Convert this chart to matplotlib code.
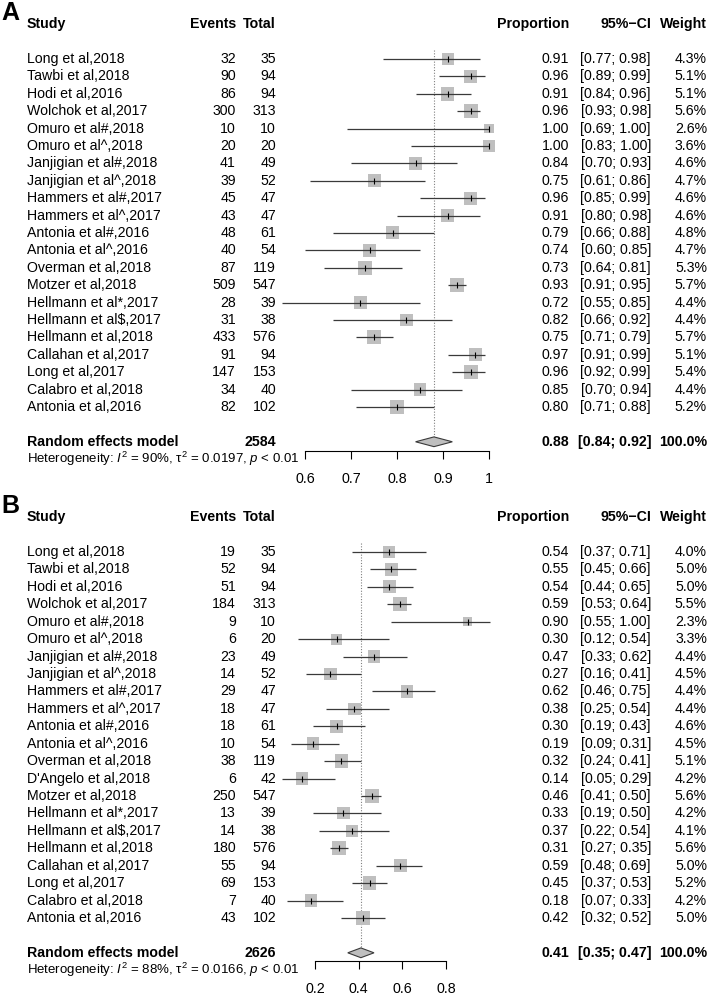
import matplotlib
matplotlib.use("Agg")
import matplotlib.pyplot as plt

plt.rcParams['font.family'] = ['Liberation Sans', 'DejaVu Sans']
plt.rcParams['mathtext.fontset'] = 'custom'
plt.rcParams['mathtext.rm'] = 'Liberation Sans'
plt.rcParams['mathtext.it'] = 'Liberation Sans:italic'
plt.rcParams['mathtext.bf'] = 'Liberation Sans:bold'

# ---- panel A data ----
studies_a = ["Long et al,2018", "Tawbi et al,2018", "Hodi et al,2016", "Wolchok et al,2017",
             "Omuro et al#,2018", "Omuro et al^,2018", "Janjigian et al#,2018", "Janjigian et al^,2018",
             "Hammers et al#,2017", "Hammers et al^,2017", "Antonia et al#,2016", "Antonia et al^,2016",
             "Overman et al,2018", "Motzer et al,2018", "Hellmann et al*,2017", "Hellmann et al$,2017",
             "Hellmann et al,2018", "Callahan et al,2017", "Long et al,2017", "Calabro et al,2018",
             "Antonia et al,2016"]
events_a = [32, 90, 86, 300, 10, 20, 41, 39, 45, 43, 48, 40, 87, 509, 28, 31, 433, 91, 147, 34, 82]
total_a = [35, 94, 94, 313, 10, 20, 49, 52, 47, 47, 61, 54, 119, 547, 39, 38, 576, 94, 153, 40, 102]
prop_a = [0.91, 0.96, 0.91, 0.96, 1.00, 1.00, 0.84, 0.75, 0.96, 0.91, 0.79, 0.74, 0.73, 0.93, 0.72,
          0.82, 0.75, 0.97, 0.96, 0.85, 0.80]
lo_a = [0.77, 0.89, 0.84, 0.93, 0.69, 0.83, 0.70, 0.61, 0.85, 0.80, 0.66, 0.60, 0.64, 0.91, 0.55,
        0.66, 0.71, 0.91, 0.92, 0.70, 0.71]
hi_a = [0.98, 0.99, 0.96, 0.98, 1.00, 1.00, 0.93, 0.86, 0.99, 0.98, 0.88, 0.85, 0.81, 0.95, 0.85,
        0.92, 0.79, 0.99, 0.99, 0.94, 0.88]
w_a = [4.3, 5.1, 5.1, 5.6, 2.6, 3.6, 4.6, 4.7, 4.6, 4.6, 4.8, 4.7, 5.3, 5.7, 4.4, 4.4, 5.7, 5.1,
       5.4, 4.4, 5.2]
pooled_a = [0.88, 0.84, 0.92]
n_a = 2584
het_a = r"Heterogeneity: $I^2$ = 90%, τ$^2$ = 0.0197, $p$ < 0.01"
ticks_a = [0.6, 0.7, 0.8, 0.9, 1.0]
ticklabels_a = ["0.6", "0.7", "0.8", "0.9", "1"]

# ---- panel B data ----
studies_b = ["Long et al,2018", "Tawbi et al,2018", "Hodi et al,2016", "Wolchok et al,2017",
             "Omuro et al#,2018", "Omuro et al^,2018", "Janjigian et al#,2018", "Janjigian et al^,2018",
             "Hammers et al#,2017", "Hammers et al^,2017", "Antonia et al#,2016", "Antonia et al^,2016",
             "Overman et al,2018", "D'Angelo et al,2018", "Motzer et al,2018", "Hellmann et al*,2017",
             "Hellmann et al$,2017", "Hellmann et al,2018", "Callahan et al,2017", "Long et al,2017",
             "Calabro et al,2018", "Antonia et al,2016"]
events_b = [19, 52, 51, 184, 9, 6, 23, 14, 29, 18, 18, 10, 38, 6, 250, 13, 14, 180, 55, 69, 7, 43]
total_b = [35, 94, 94, 313, 10, 20, 49, 52, 47, 47, 61, 54, 119, 42, 547, 39, 38, 576, 94, 153, 40, 102]
prop_b = [0.54, 0.55, 0.54, 0.59, 0.90, 0.30, 0.47, 0.27, 0.62, 0.38, 0.30, 0.19, 0.32, 0.14, 0.46,
          0.33, 0.37, 0.31, 0.59, 0.45, 0.18, 0.42]
lo_b = [0.37, 0.45, 0.44, 0.53, 0.55, 0.12, 0.33, 0.16, 0.46, 0.25, 0.19, 0.09, 0.24, 0.05, 0.41,
        0.19, 0.22, 0.27, 0.48, 0.37, 0.07, 0.32]
hi_b = [0.71, 0.66, 0.65, 0.64, 1.00, 0.54, 0.62, 0.41, 0.75, 0.54, 0.43, 0.31, 0.41, 0.29, 0.50,
        0.50, 0.54, 0.35, 0.69, 0.53, 0.33, 0.52]
w_b = [4.0, 5.0, 5.0, 5.5, 2.3, 3.3, 4.4, 4.5, 4.4, 4.4, 4.6, 4.5, 5.1, 4.2, 5.6, 4.2, 4.1, 5.6,
       5.0, 5.2, 4.2, 5.0]
pooled_b = [0.41, 0.35, 0.47]
n_b = 2626
het_b = r"Heterogeneity: $I^2$ = 88%, τ$^2$ = 0.0166, $p$ < 0.01"
ticks_b = [0.2, 0.4, 0.6, 0.8]
ticklabels_b = ["0.2", "0.4", "0.6", "0.8"]

W, H = 709, 994
FS = 10.2
SQ = '#bfbfbf'
LN = '#3a3a3a'


def px(x):
    return x / W


def forest(ax, studies, events, total, prop, lo, hi, w, pooled, n, het, ticks, ticklabels):
    k = len(studies)
    rows = list(range(k))
    re_row = k + 1
    tr = ax.get_yaxis_transform()

    # header
    for x, s, ha in [(27, "Study", 'left'), (236, "Events", 'right'), (276, "Total", 'right'),
                     (569, "Proportion", 'right'), (651, "95%−CI", 'right'), (707, "Weight", 'right')]:
        ax.text(px(x), -2, s, transform=tr, ha=ha, va='center', fontsize=FS, fontweight='bold')

    # reference line at pooled estimate
    ax.plot([pooled[0], pooled[0]], [-0.5, re_row - 0.3], color='#808080', lw=0.8, ls=(0, (1, 1.5)))

    # squares, CI lines, mid ticks
    sizes = [(5.95 * wi ** 0.5 * 0.72) ** 2 for wi in w]
    ax.scatter(prop, rows, s=sizes, marker='s', color=SQ, linewidths=0, zorder=2)
    ax.hlines(rows, lo, hi, color=LN, lw=0.9, zorder=3)
    ax.plot(prop, rows, ls='none', marker='|', ms=4.5, mew=0.8, color='black', zorder=4)

    for i in rows:
        ax.text(px(27), i, studies[i], transform=tr, ha='left', va='center', fontsize=FS)
        ax.text(px(236), i, str(events[i]), transform=tr, ha='right', va='center', fontsize=FS)
        ax.text(px(276), i, str(total[i]), transform=tr, ha='right', va='center', fontsize=FS)
        ax.text(px(569), i, f"{prop[i]:.2f}", transform=tr, ha='right', va='center', fontsize=FS)
        ax.text(px(651), i, f"[{lo[i]:.2f}; {hi[i]:.2f}]", transform=tr, ha='right', va='center', fontsize=FS)
        ax.text(px(707), i, f"{w[i]:.1f}%", transform=tr, ha='right', va='center', fontsize=FS)

    # pooled diamond
    est, plo, phi = pooled
    ax.fill([plo, est, phi, est], [re_row, re_row - 0.28, re_row, re_row + 0.28],
            facecolor=SQ, edgecolor=LN, lw=0.8, zorder=3)
    ax.text(px(27), re_row, "Random effects model", transform=tr, ha='left', va='center',
            fontsize=FS, fontweight='bold')
    ax.text(px(276), re_row, str(n), transform=tr, ha='right', va='center', fontsize=FS, fontweight='bold')
    ax.text(px(569), re_row, f"{est:.2f}", transform=tr, ha='right', va='center', fontsize=FS, fontweight='bold')
    ax.text(px(651), re_row, f"[{plo:.2f}; {phi:.2f}]", transform=tr, ha='right', va='center',
            fontsize=FS, fontweight='bold')
    ax.text(px(707), re_row, "100.0%", transform=tr, ha='right', va='center', fontsize=FS, fontweight='bold')
    ax.text(px(27), re_row + 1, het, transform=tr, ha='left', va='center', fontsize=9.5)

    # x axis
    for s in ['top', 'left', 'right']:
        ax.spines[s].set_visible(False)
    ax.spines['bottom'].set_bounds(ticks[0], ticks[-1])
    ax.spines['bottom'].set_linewidth(0.8)
    ax.set_xticks(ticks)
    ax.set_xticklabels(ticklabels)
    ax.tick_params(axis='x', direction='out', length=5.8, width=0.8, pad=9, labelsize=10.3)
    ax.set_yticks([])
    ax.patch.set_alpha(0)


fig = plt.figure(figsize=(W / 100, H / 100), dpi=100)

# panel A: axis line at y=451 px, rows start at 59 px, 17.4 px per row, 0.1 = 45.95 px
axA = fig.add_axes([0, 1 - 451 / H, 1, 451 / H])
axA.set_ylim(22.53, -3.39)
axA.set_xlim(0.6 - 305.3 / 459.5, 0.6 + (W - 305.3) / 459.5)
forest(axA, studies_a, events_a, total_a, prop_a, lo_a, hi_a, w_a, pooled_a, n_a, het_a,
       ticks_a, ticklabels_a)

# panel B: axis line at y=961 px, rows start at 552 px
axB = fig.add_axes([0, 1 - 961 / H, 1, (961 - 495) / H])
axB.set_ylim(23.47, -3.27)
axB.set_xlim(0.2 - 315 / 218.5, 0.2 + (W - 315) / 218.5)
forest(axB, studies_b, events_b, total_b, prop_b, lo_b, hi_b, w_b, pooled_b, n_b, het_b,
       ticks_b, ticklabels_b)

fig.text(px(1), 1 - 13 / H, "A", fontsize=18, fontweight='bold', ha='left', va='center')
fig.text(px(1), 1 - 506 / H, "B", fontsize=18, fontweight='bold', ha='left', va='center')

fig.savefig("out.png", dpi=100)
